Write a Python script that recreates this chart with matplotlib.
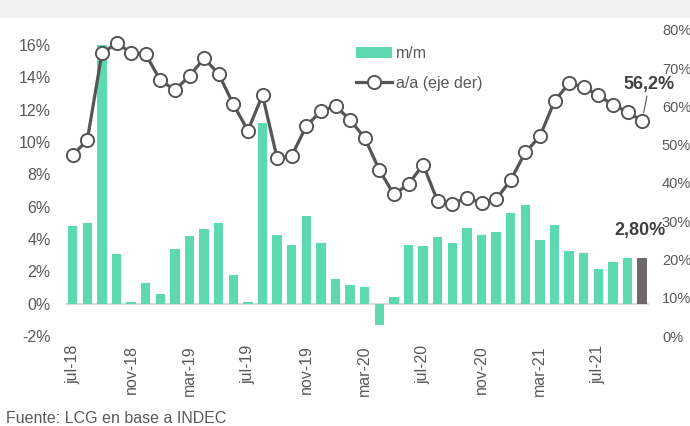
import matplotlib.pyplot as plt
from matplotlib.patches import Rectangle
import numpy as np

plt.rcParams['font.family'] = ['Liberation Sans', 'DejaVu Sans']

# datos: variación mensual (m/m, eje izq) e interanual (a/a, eje der)
meses = ['jul-18', 'ago-18', 'sep-18', 'oct-18', 'nov-18', 'dic-18',
         'ene-19', 'feb-19', 'mar-19', 'abr-19', 'may-19', 'jun-19',
         'jul-19', 'ago-19', 'sep-19', 'oct-19', 'nov-19', 'dic-19',
         'ene-20', 'feb-20', 'mar-20', 'abr-20', 'may-20', 'jun-20',
         'jul-20', 'ago-20', 'sep-20', 'oct-20', 'nov-20', 'dic-20',
         'ene-21', 'feb-21', 'mar-21', 'abr-21', 'may-21', 'jun-21',
         'jul-21', 'ago-21', 'sep-21', 'oct-21']
mm = [4.8, 5.0, 16.0, 3.05, 0.1, 1.3, 0.6, 3.4, 4.2, 4.65, 5.0, 1.75,
      0.1, 11.2, 4.25, 3.65, 5.45, 3.75, 1.5, 1.15, 1.05, -1.35, 0.4, 3.65,
      3.55, 4.15, 3.75, 4.7, 4.25, 4.45, 5.6, 6.1, 3.95, 4.85, 3.25, 3.15,
      2.15, 2.55, 2.85, 2.80]
aa = [47.3, 51.2, 73.9, 76.5, 74.1, 73.6, 66.9, 64.3, 68.0, 72.6, 68.5, 60.6,
      53.7, 63.0, 46.5, 47.1, 54.9, 58.8, 60.1, 56.5, 51.8, 43.4, 37.0, 39.7,
      44.8, 35.2, 34.6, 36.2, 34.7, 35.7, 40.8, 48.0, 52.2, 61.4, 66.1, 65.0,
      63.0, 60.4, 58.6, 56.2]
etiquetas_x = ['jul-18', 'nov-18', 'mar-19', 'jul-19', 'nov-19',
               'mar-20', 'jul-20', 'nov-20', 'mar-21', 'jul-21']

verde = '#5cd9b1'
gris_barra = '#6e6969'
gris_linea = '#555555'
gris_texto = '#595959'

fig = plt.figure(figsize=(6.9, 4.26), dpi=100)
fig.patches.append(Rectangle((0, 1 - 17 / 426), 1, 17 / 426, transform=fig.transFigure,
                             color='#f2f2f2', zorder=0))

ax = fig.add_axes([65.4 / 690, 90 / 426, 584 / 690, 306 / 426])
ax2 = ax.twinx()

x = np.arange(len(meses))
colores = [verde] * (len(mm) - 1) + [gris_barra]
ax.bar(x, mm, width=0.65, color=colores, zorder=2, label='m/m')
ax.axhline(0, color='#d9d9d9', lw=1.5, zorder=1)

ax2.plot(x, aa, color=gris_linea, lw=2.3, marker='o', markersize=9.5,
         markerfacecolor='white', markeredgecolor=gris_linea, markeredgewidth=1.4,
         label='a/a (eje der)', zorder=3)

ax.set_xlim(-0.5, len(meses) - 0.5)
ax.set_ylim(-2, 16.93)
ax2.set_ylim(0, 80)

ax.set_yticks(np.arange(-2, 17, 2))
ax.set_yticklabels([f'{v}%' for v in range(-2, 17, 2)])
ax2.set_yticks(np.arange(0, 81, 10))
ax2.set_yticklabels([f'{v}%' for v in range(0, 81, 10)])

pos_x = [meses.index(m) for m in etiquetas_x]
ax.set_xticks(pos_x)
ax.set_xticklabels(etiquetas_x, rotation=90, va='top', ha='center')

for a in (ax, ax2):
    for s in a.spines.values():
        s.set_visible(False)
    a.tick_params(length=0, colors=gris_texto, labelsize=11.5)
ax.tick_params(axis='y', pad=10.5)
ax2.tick_params(axis='y', pad=9, labelsize=10.5)
ax.tick_params(axis='x', pad=6.5, labelsize=11.5)

ax.set_zorder(ax2.get_zorder() - 1)
ax.patch.set_visible(False)

# anotaciones del último dato
ax.annotate(f'{mm[-1]:.2f}%'.replace('.', ','), (x[-1], mm[-1]), xytext=(-1.5, 14),
            textcoords='offset points', ha='center', va='bottom',
            fontsize=13, fontweight='bold', color='#404040')
ax2.annotate(f'{aa[-1]:.1f}%'.replace('.', ','), (x[-1], aa[-1]), xytext=(5, 20),
             textcoords='offset points', ha='center', va='bottom',
             fontsize=13, fontweight='bold', color='#404040',
             arrowprops=dict(arrowstyle='-', color=gris_linea, lw=0.8,
                             shrinkA=0, shrinkB=6))

# leyenda
h1, l1 = ax.get_legend_handles_labels()
h2, l2 = ax2.get_legend_handles_labels()
leg = fig.legend(h1 + h2, l1 + l2, loc='upper left', bbox_to_anchor=(350 / 690, 1 - 40 / 426),
                 frameon=False, fontsize=11.5, handlelength=2.2, handletextpad=0.25,
                 labelspacing=0.9, borderaxespad=0)
for t in leg.get_texts():
    t.set_color(gris_texto)

fig.text(6 / 690, 1 - 411 / 426, 'Fuente: LCG en base a INDEC', ha='left', va='top',
         fontsize=11.5, color=gris_texto)

fig.savefig('out.png', dpi=100)
